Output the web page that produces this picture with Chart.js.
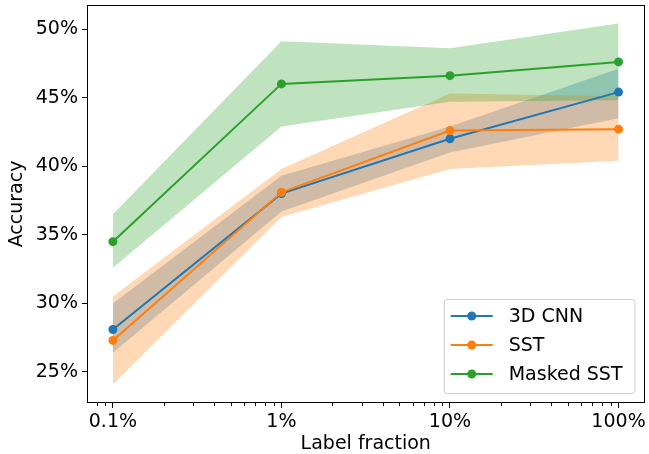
<!DOCTYPE html>
<html>
<head>
<meta charset="utf-8">
<script src="https://cdn.jsdelivr.net/npm/chart.js@4"></script>
<style>
  body { margin: 0; background: #fff; }
  canvas { display: block; }
</style>
</head>
<body>
<canvas id="chartAcc" width="649" height="454"></canvas>
<script>
// label fraction (%) on a log axis
const fractions = [0.1, 1, 10, 100];
const xTicks = [0.1, 1, 10, 100];
const yTicks = [25, 30, 35, 40, 45, 50];

const seriesNames = ['3D CNN', 'SST', 'Masked SST'];

const cnnMean = [28.1, 38.0, 42.0, 45.4];
const cnnLow = [26.4, 36.7, 41.0, 43.5];
const cnnHigh = [30.0, 39.3, 42.9, 47.1];

const sstMean = [27.3, 38.1, 42.6, 42.7];
const sstLow = [24.1, 36.3, 39.8, 40.4];
const sstHigh = [30.5, 39.8, 45.3, 45.1];

const maskedMean = [34.5, 46.0, 46.6, 47.6];
const maskedLow = [32.6, 42.9, 44.7, 44.8];
const maskedHigh = [36.5, 49.1, 48.6, 50.4];

const colores = ['#1f77b4', '#ff7f0e', '#2ca02c'];
const rellenos = ['rgba(31,119,180,0.3)', 'rgba(255,127,14,0.3)', 'rgba(44,160,44,0.3)'];

const FONT = "'DejaVu Sans', sans-serif";
const FSIZE = 19;

const toPoints = (vals) => vals.map((v, i) => ({ x: fractions[i], y: v }));

const lineDs = (idx, vals) => ({
    label: seriesNames[idx],
    data: toPoints(vals),
    borderColor: colores[idx],
    backgroundColor: colores[idx],
    borderWidth: 2,
    pointRadius: 4.5,
    pointBorderWidth: 0,
    fill: false,
    order: 2 - idx
});

const bandDs = (idx, vals, target) => ({
    label: '_band',
    data: toPoints(vals),
    borderWidth: 0,
    borderColor: 'rgba(0,0,0,0)',
    backgroundColor: rellenos[idx],
    pointRadius: 0,
    fill: target,
    order: 10 - idx
});

// index 3..8 for bands: upper fills to lower
const datasets = [
    lineDs(0, cnnMean),
    lineDs(1, sstMean),
    lineDs(2, maskedMean),
    bandDs(0, cnnLow, false),
    bandDs(0, cnnHigh, 3),
    bandDs(1, sstLow, false),
    bandDs(1, sstHigh, 5),
    bandDs(2, maskedLow, false),
    bandDs(2, maskedHigh, 7)
];

const marcoYLeyenda = {
    id: 'marcoYLeyenda',
    afterDraw(chart) {
        const ctx = chart.ctx;
        const ca = chart.chartArea;
        const x = chart.scales.x;

        // minor ticks on the log axis
        ctx.save();
        ctx.strokeStyle = '#000';
        ctx.lineWidth = 1;
        const minors = [];
        [0.01, 0.1, 1, 10].forEach(base => {
            for (let k = 2; k <= 9; k++) minors.push(base * k);
        });
        minors.forEach(v => {
            if (v < x.min || v > x.max) return;
            const px = Math.round(x.getPixelForValue(v)) + 0.5;
            ctx.beginPath();
            ctx.moveTo(px, ca.bottom);
            ctx.lineTo(px, ca.bottom + 3);
            ctx.stroke();
        });

        // box around plot
        ctx.strokeRect(Math.round(ca.left) + 0.5, Math.round(ca.top) + 0.5,
            Math.round(ca.right - ca.left) - 1, Math.round(ca.bottom - ca.top) - 1);

        // legend
        ctx.font = FSIZE + 'px ' + FONT;
        const textW = Math.max(...seriesNames.map(n => ctx.measureText(n).width));
        const boxW = 65 + textW + 12;
        const boxH = 94;
        const bx = ca.right - 10 - boxW;
        const by = ca.bottom - 10 - boxH;
        ctx.fillStyle = 'rgba(255,255,255,0.8)';
        ctx.strokeStyle = '#cccccc';
        ctx.beginPath();
        ctx.roundRect(bx + 0.5, by + 0.5, boxW, boxH, 3);
        ctx.fill();
        ctx.stroke();

        seriesNames.forEach((name, i) => {
            const ry = by + 17 + i * 29;
            ctx.strokeStyle = colores[i];
            ctx.lineWidth = 2;
            ctx.beginPath();
            ctx.moveTo(bx + 7, ry);
            ctx.lineTo(bx + 49, ry);
            ctx.stroke();
            ctx.fillStyle = colores[i];
            ctx.beginPath();
            ctx.arc(bx + 28, ry, 4.5, 0, Math.PI * 2);
            ctx.fill();
            ctx.fillStyle = '#000';
            ctx.textBaseline = 'middle';
            ctx.textAlign = 'left';
            ctx.fillText(name, bx + 65, ry + 1);
        });
        ctx.restore();
    }
};

const chartAcc = new Chart(document.getElementById('chartAcc').getContext('2d'), {
    type: 'line',
    data: { datasets: datasets },
    options: {
        responsive: false,
        animation: false,
        devicePixelRatio: 1,
        events: [],
        layout: { padding: { left: 0, right: 2, top: 5, bottom: 0 } },
        plugins: {
            legend: { display: false },
            tooltip: { enabled: false },
            filler: { drawTime: 'beforeDatasetsDraw' }
        },
        scales: {
            x: {
                type: 'logarithmic',
                min: 0.0702,
                max: 142.6,
                afterBuildTicks: (scale) => { scale.ticks = xTicks.map(v => ({ value: v })); },
                afterFit: (scale) => {
                    scale.height = 51;
                    scale.paddingLeft = 0;
                    scale.paddingRight = 0;
                },
                border: { display: false },
                grid: { drawOnChartArea: false, tickLength: 5, tickColor: '#000', tickWidth: 1 },
                ticks: {
                    color: '#000',
                    font: { family: FONT, size: FSIZE, lineHeight: 1 },
                    padding: 5,
                    maxRotation: 0,
                    autoSkip: false,
                    callback: (v) => v + '%'
                },
                title: {
                    display: true,
                    text: 'Label fraction',
                    color: '#000',
                    font: { family: FONT, size: FSIZE, lineHeight: 1 },
                    padding: { top: 0, bottom: 0 }
                }
            },
            y: {
                min: 22.74,
                max: 51.75,
                afterBuildTicks: (scale) => { scale.ticks = yTicks.map(v => ({ value: v })); },
                afterFit: (scale) => {
                    scale.width = 87;
                    scale.paddingTop = 0;
                    scale.paddingBottom = 0;
                },
                border: { display: false },
                grid: { drawOnChartArea: false, tickLength: 5, tickColor: '#000', tickWidth: 1 },
                ticks: {
                    color: '#000',
                    font: { family: FONT, size: FSIZE, lineHeight: 1 },
                    padding: 4,
                    callback: (v) => v + '%'
                },
                title: {
                    display: true,
                    text: 'Accuracy',
                    color: '#000',
                    font: { family: FONT, size: FSIZE, lineHeight: 1 },
                    padding: { top: 8, bottom: 0 }
                }
            }
        }
    },
    plugins: [marcoYLeyenda]
});
</script>
</body>
</html>
